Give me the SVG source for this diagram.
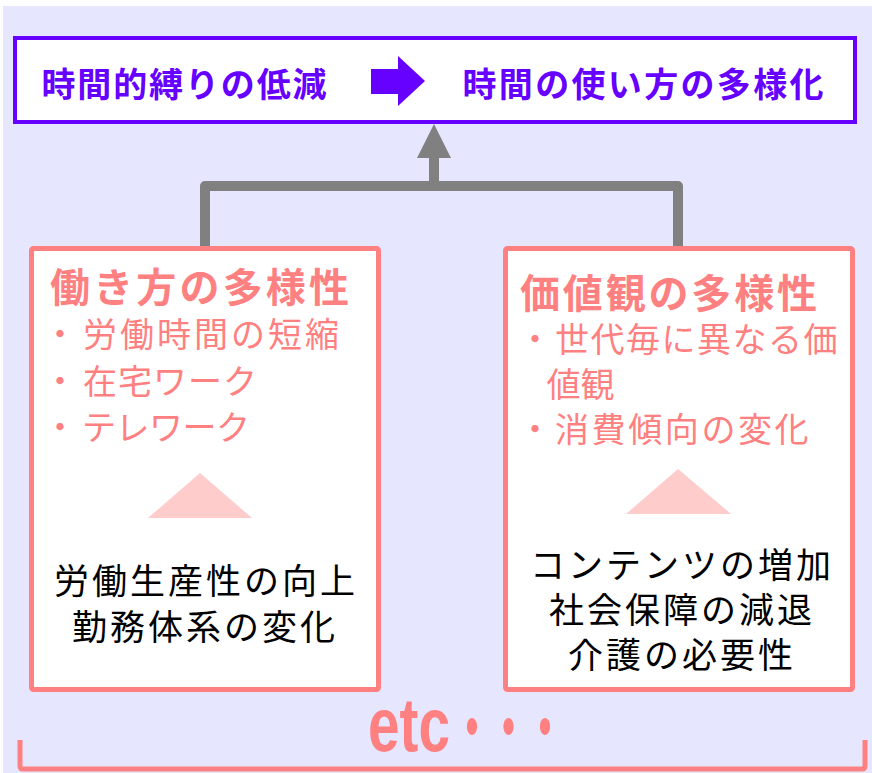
<svg xmlns="http://www.w3.org/2000/svg" width="872" height="773" viewBox="0 0 872 773">
<style>
.jp{font-family:"Noto Sans CJK JP","Noto Sans",sans-serif}
.head{font-size:34px;font-weight:700;fill:#6600FF}
.title{font-size:40px;font-weight:700;fill:#FF8080}
.bul{font-size:34px;fill:#FF8080}
.blk{font-size:35px;fill:#000;letter-spacing:3px;text-anchor:middle}
.pbox{fill:#fff;stroke:#FF8080;stroke-width:5}
.tri{fill:#FFCCCC}
.conn{fill:none;stroke:#808080;stroke-width:10;stroke-linejoin:round}
</style>
<defs>
<marker id="ah" markerUnits="userSpaceOnUse" viewBox="0 0 34 34" refX="0" refY="17" markerWidth="34" markerHeight="34" orient="auto">
<path d="M0,0 L34,17 L0,34 z" fill="#808080"/>
</marker>
</defs>
<rect x="3" y="6" width="869" height="767" fill="#E6E6FF"/>
<g id="connectors">
<path class="conn" d="M205 248 V186 H678 V248"/>
<path class="conn" d="M434 187 V158" stroke-width="11" marker-end="url(#ah)"/>
</g>
<g id="top">
<rect x="15" y="38" width="840" height="84" fill="#fff" stroke="#6600FF" stroke-width="4"/>
<text class="jp head" x="41.5" y="97" textLength="285" lengthAdjust="spacing">時間的縛りの低減</text>
<polygon points="371,69 398,69 398,56 425,81 398,106 398,94 371,94" fill="#6600FF"/>
<text class="jp head" x="462.5" y="97" textLength="361" lengthAdjust="spacing">時間の使い方の多様化</text>
</g>
<g id="left">
<rect class="pbox" x="31.5" y="248.5" width="347" height="441" rx="2"/>
<text class="jp title" x="50" y="302" textLength="299" lengthAdjust="spacing">働き方の多様性</text>
<text class="jp bul" x="43" y="347">・<tspan x="83" letter-spacing="3">労働時間の短縮</tspan></text>
<text class="jp bul" x="43" y="393.5">・<tspan x="83" letter-spacing="1">在宅ワーク</tspan></text>
<text class="jp bul" x="43" y="440">・<tspan x="82" letter-spacing="-0.5">テレワーク</tspan></text>
<polygon class="tri" points="200,473 252,518 148,518"/>
<text class="jp blk" x="206" y="594">労働生産性の向上</text>
<text class="jp blk" x="205" y="640">勤務体系の変化</text>
</g>
<g id="right">
<rect class="pbox" x="505.5" y="248.5" width="347" height="441" rx="2"/>
<text class="jp title" x="520" y="308" textLength="297" lengthAdjust="spacing">価値観の多様性</text>
<text class="jp bul" x="518" y="352">・<tspan x="555" letter-spacing="1.5">世代毎に異なる価</tspan></text>
<text class="jp bul" x="546.5" y="397">値観</text>
<text class="jp bul" x="518" y="442">・<tspan x="555" letter-spacing="2.6">消費傾向の変化</tspan></text>
<polygon class="tri" points="678,469 731,514 626,514"/>
<text class="jp blk" x="682" y="578">コンテンツの増加</text>
<text class="jp blk" x="682" y="623">社会保障の減退</text>
<text class="jp blk" x="682" y="668">介護の必要性</text>
</g>
<g id="etc">
<path d="M20 740 V766 Q20 769 23 769 H862 Q865 769 865 766 V740" fill="none" stroke="#FF8080" stroke-width="5"/>
<text x="368" y="751" font-family="Liberation Sans, Arial, sans-serif" font-weight="700" font-size="76" fill="#FF8080" textLength="82" lengthAdjust="spacingAndGlyphs">etc</text>
<text class="jp" transform="scale(0.6,1)" x="786.7 847.5 908.3" y="756" font-size="80" fill="#FF8080" text-anchor="middle">・・・</text>
</g>
</svg>
